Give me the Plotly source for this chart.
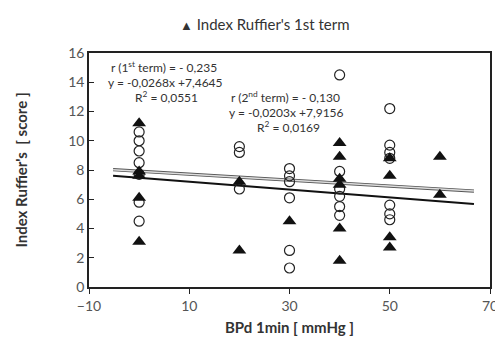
import plotly.graph_objects as go

# Data
x_first = [0, 0, 0, 0, 0, 20, 20, 30, 40, 40, 40, 40, 40, 40, 50, 50, 50, 50, 60, 60]
y_first = [11.2, 7.9, 7.6, 6.1, 3.1, 7.2, 2.5, 4.5, 9.85, 8.9, 7.4, 7.0, 4.0, 1.8, 8.8, 7.6, 3.4, 2.7, 8.9, 6.3]

x_second = [0, 0, 0, 0, 0, 0, 0, 20, 20, 20, 30, 30, 30, 30, 30, 30,
            40, 40, 40, 40, 40, 40, 50, 50, 50, 50, 50, 50, 50]
y_second = [10.6, 10.0, 9.3, 8.5, 7.7, 5.8, 4.5, 9.6, 9.2, 6.7, 8.1, 7.6, 7.2, 6.1, 2.5, 1.3,
            14.5, 7.9, 6.7, 6.2, 5.5, 4.9, 12.2, 9.7, 9.2, 8.8, 5.6, 5.0, 4.6]

slope_first, icpt_first = -0.0268, 7.4645
slope_second, icpt_second = -0.0203, 7.9156
trend_x = [-5.2, 66.8]

x_ticks = [-10, 10, 30, 50, 70]
y_ticks = [0, 2, 4, 6, 8, 10, 12, 14, 16]

FONT = "Lato"

fig = go.Figure()

# trendline 2nd term (gray double-edged line)
fig.add_trace(go.Scatter(x=trend_x, y=[slope_second * v + icpt_second for v in trend_x],
                         mode="lines", line=dict(color="#555555", width=3.2), showlegend=False,
                         hoverinfo="skip"))
fig.add_trace(go.Scatter(x=trend_x, y=[slope_second * v + icpt_second for v in trend_x],
                         mode="lines", line=dict(color="#dddddd", width=1.4), showlegend=False,
                         hoverinfo="skip"))
# trendline 1st term
fig.add_trace(go.Scatter(x=trend_x, y=[slope_first * v + icpt_first for v in trend_x],
                         mode="lines", line=dict(color="#111111", width=2), showlegend=False,
                         hoverinfo="skip"))

fig.add_trace(go.Scatter(x=x_second, y=y_second, mode="markers", showlegend=False,
                         name="Index Ruffier's 2nd term",
                         marker=dict(symbol="circle-open", size=10, color="#222222",
                                     line=dict(width=1.2, color="#222222"))))
fig.add_trace(go.Scatter(x=x_first, y=y_first, mode="markers", name="Index Ruffier's 1st term",
                         showlegend=False,
                         marker=dict(symbol="triangle-up", size=12, color="#111111")))

L, R, T, B = 81, 21, 45, 61
W, H = 503, 340
pw, ph = W - L - R, H - T - B

ann_font = dict(family=FONT, size=12, color="#333333")
texts = [
    ("r (1<sup>st</sup> term) = - 0,235", 156, 59),
    ("y = -0,0268x +7,4645", 157, 74),
    ("R<sup>2</sup> = 0,0551", 158, 89),
    ("r (2<sup>nd</sup> term) = - 0,130", 277, 89),
    ("y = -0,0203x +7,9156", 278, 104),
    ("R<sup>2</sup> = 0,0169", 280, 119),
]
for t, px, py in texts:
    fig.add_annotation(text=t, xref="paper", yref="paper",
                       x=(px - L) / pw, y=1 - (py - T) / ph,
                       xanchor="center", yanchor="middle", showarrow=False, font=ann_font)

# legend (drawn as text, like the reference's header key)
fig.add_annotation(text="<span style='font-size:13px'>▲</span> Index Ruffier's 1st term",
                   xref="paper", yref="paper", x=(257 - L) / pw, y=1 - (16 - T) / ph,
                   xanchor="center", yanchor="middle", showarrow=False,
                   font=dict(family=FONT, size=15, color="#333333"))

fig.update_layout(
    width=W, height=H,
    margin=dict(l=L, r=R, t=T, b=B),
    paper_bgcolor="white", plot_bgcolor="white",
    font=dict(family=FONT, color="#444444", size=14),
    showlegend=False,
    xaxis=dict(range=[-10, 70], tickvals=x_ticks, showgrid=False, zeroline=False,
               showline=True, linecolor="#222222", linewidth=1.5, mirror=True,
               ticks="outside", ticklen=5, tickcolor="#222222",
               tickfont=dict(family=FONT, size=14, color="#555555"),
               title=dict(text="<b>BPd 1min [ mmHg ]</b>", standoff=10,
                          font=dict(family=FONT, size=15, color="#333333"))),
    yaxis=dict(range=[0, 16], tickvals=y_ticks, showgrid=False, zeroline=False,
               showline=True, linecolor="#222222", linewidth=1.5, mirror=True,
               ticks="inside", ticklen=5, tickcolor="#222222",
               tickfont=dict(family=FONT, size=14, color="#555555"),
               title=dict(text="<b>Index Ruffier's  [ score ]</b>", standoff=37,
                          font=dict(family=FONT, size=15, color="#333333"))),
)

fig.write_html("out.html")
